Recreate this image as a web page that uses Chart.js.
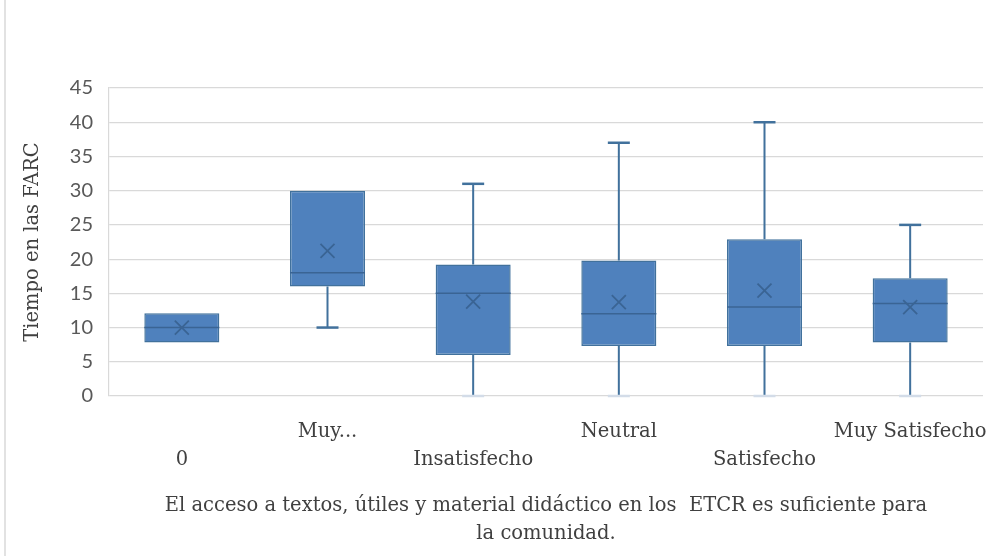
<!DOCTYPE html>
<html>
<head>
<meta charset="utf-8">
<script src="https://cdn.jsdelivr.net/npm/chart.js@4/dist/chart.umd.min.js"></script>
<style>
  html, body { margin: 0; padding: 0; background: #ffffff; }
  #wrap { width: 991px; height: 556px; position: relative; }
</style>
</head>
<body>
<div id="wrap"><canvas id="chart"></canvas></div>
<script>
// Values (Excel style box & whisker)
const categories = ['0', 'Muy...', 'Insatisfecho', 'Neutral', 'Satisfecho', 'Muy Satisfecho']
const minValues = [7.8, 10, 0, 0, 0, 0]
const q1Values = [7.8, 16, 6, 7.3, 7.3, 7.8]
const medianValues = [10, 18, 15, 12, 13, 13.5]
const q3Values = [12.1, 30, 19.2, 19.8, 22.9, 17.2]
const maxValues = [12.1, 30, 31, 37, 40, 25]
const meanValues = [10, 21.2, 13.8, 13.7, 15.4, 13]
const yTicks = [0, 5, 10, 15, 20, 25, 30, 35, 40, 45]

const axisTitle = 'Tiempo en las FARC'
const xTitle = ['El acceso a textos, útiles y material didáctico en los  ETCR es suficiente para', 'la comunidad.']

// Excel staggers the category labels on two rows
const staggered = categories.map((c, i) => (i % 2 ? [c, ''] : ['', c]))

const BOX_FILL = '#4F81BD'
const BOX_EDGE = '#41719C'
const MARK = '#3A6494'
const TEXT_SIZE = 19.5

const boxExtras = {
    id: 'boxExtras',
    beforeDraw(chart) {
        const ctx = chart.ctx
        ctx.save()
        ctx.strokeStyle = '#D9D9D9'
        ctx.lineWidth = 1.5
        ctx.beginPath()
        ctx.moveTo(5, 0)
        ctx.lineTo(5, chart.height)
        ctx.stroke()
        ctx.restore()
    },
    afterDatasetsDraw(chart) {
        const ctx = chart.ctx
        const y = chart.scales.y
        const meta = chart.getDatasetMeta(0)
        ctx.save()
        meta.data.forEach((bar, i) => {
            const x = bar.x
            const half = bar.width / 2
            const cap = 11
            const yMin = y.getPixelForValue(minValues[i])
            const yQ1 = y.getPixelForValue(q1Values[i])
            const yQ3 = y.getPixelForValue(q3Values[i])
            const yMax = y.getPixelForValue(maxValues[i])
            const yMed = y.getPixelForValue(medianValues[i])
            const yMean = y.getPixelForValue(meanValues[i])

            // whiskers
            ctx.strokeStyle = BOX_EDGE
            ctx.lineWidth = 2
            ctx.beginPath()
            if (maxValues[i] > q3Values[i]) {
                ctx.moveTo(x, yQ3)
                ctx.lineTo(x, yMax)
            }
            if (minValues[i] < q1Values[i]) {
                ctx.moveTo(x, yQ1)
                ctx.lineTo(x, yMin)
            }
            ctx.stroke()

            const drawCap = (val, py) => {
                ctx.strokeStyle = val === y.min ? '#D3DCE8' : BOX_EDGE
                ctx.lineWidth = 2.5
                ctx.beginPath()
                ctx.moveTo(x - cap, py)
                ctx.lineTo(x + cap, py)
                ctx.stroke()
            }
            if (maxValues[i] > q3Values[i]) drawCap(maxValues[i], yMax)
            if (minValues[i] < q1Values[i]) drawCap(minValues[i], yMin)

            // median
            ctx.strokeStyle = MARK
            ctx.lineWidth = 1.5
            ctx.beginPath()
            ctx.moveTo(x - half, yMed)
            ctx.lineTo(x + half, yMed)
            ctx.stroke()

            // mean marker
            const s = 7
            ctx.lineWidth = 1.8
            ctx.beginPath()
            ctx.moveTo(x - s, yMean - s)
            ctx.lineTo(x + s, yMean + s)
            ctx.moveTo(x + s, yMean - s)
            ctx.lineTo(x - s, yMean + s)
            ctx.stroke()
        })
        ctx.restore()
    }
}

new Chart(document.getElementById('chart'), {
    type: 'bar',
    data: {
        labels: staggered,
        datasets: [{
            label: axisTitle,
            data: categories.map((_, i) => [q1Values[i], q3Values[i]]),
            backgroundColor: BOX_FILL,
            borderColor: BOX_EDGE,
            borderWidth: 1.5,
            borderSkipped: false,
            barPercentage: 0.515,
            categoryPercentage: 1
        }]
    },
    options: {
        responsive: true,
        maintainAspectRatio: false,
        animation: false,
        layout: { padding: { top: 88, right: 8, left: 0, bottom: 0 } },
        plugins: {
            legend: { display: false },
            tooltip: { enabled: false }
        },
        scales: {
            x: {
                grid: { display: false, drawTicks: false },
                border: { display: false },
                ticks: {
                    color: '#404040',
                    padding: 22,
                    maxRotation: 0,
                    autoSkip: false,
                    font: { family: 'DejaVu Serif', size: TEXT_SIZE, lineHeight: 28 / TEXT_SIZE }
                },
                title: {
                    display: true,
                    text: xTitle,
                    color: '#404040',
                    padding: { top: 0, bottom: 8 },
                    font: { family: 'DejaVu Serif', size: TEXT_SIZE, lineHeight: 28 / TEXT_SIZE }
                },
                afterFit: scale => {
                    scale.height = 160
                    scale.paddingLeft = 0
                    scale.paddingRight = 0
                }
            },
            y: {
                min: 0,
                max: 45,
                afterBuildTicks: scale => { scale.ticks = yTicks.map(v => ({ value: v })) },
                grid: { color: '#D9D9D9', lineWidth: 1.2, drawTicks: false },
                border: { display: true, color: '#D9D9D9', width: 1.2 },
                ticks: {
                    color: '#595959',
                    padding: 16,
                    font: { family: 'Lato', size: 20 }
                },
                title: {
                    display: true,
                    text: axisTitle,
                    color: '#404040',
                    padding: { top: 21, bottom: 0 },
                    font: { family: 'DejaVu Serif', size: TEXT_SIZE, lineHeight: 1.2 }
                },
                afterFit: scale => { scale.width = 109 }
            }
        }
    },
    plugins: [boxExtras]
})
</script>
</body>
</html>
